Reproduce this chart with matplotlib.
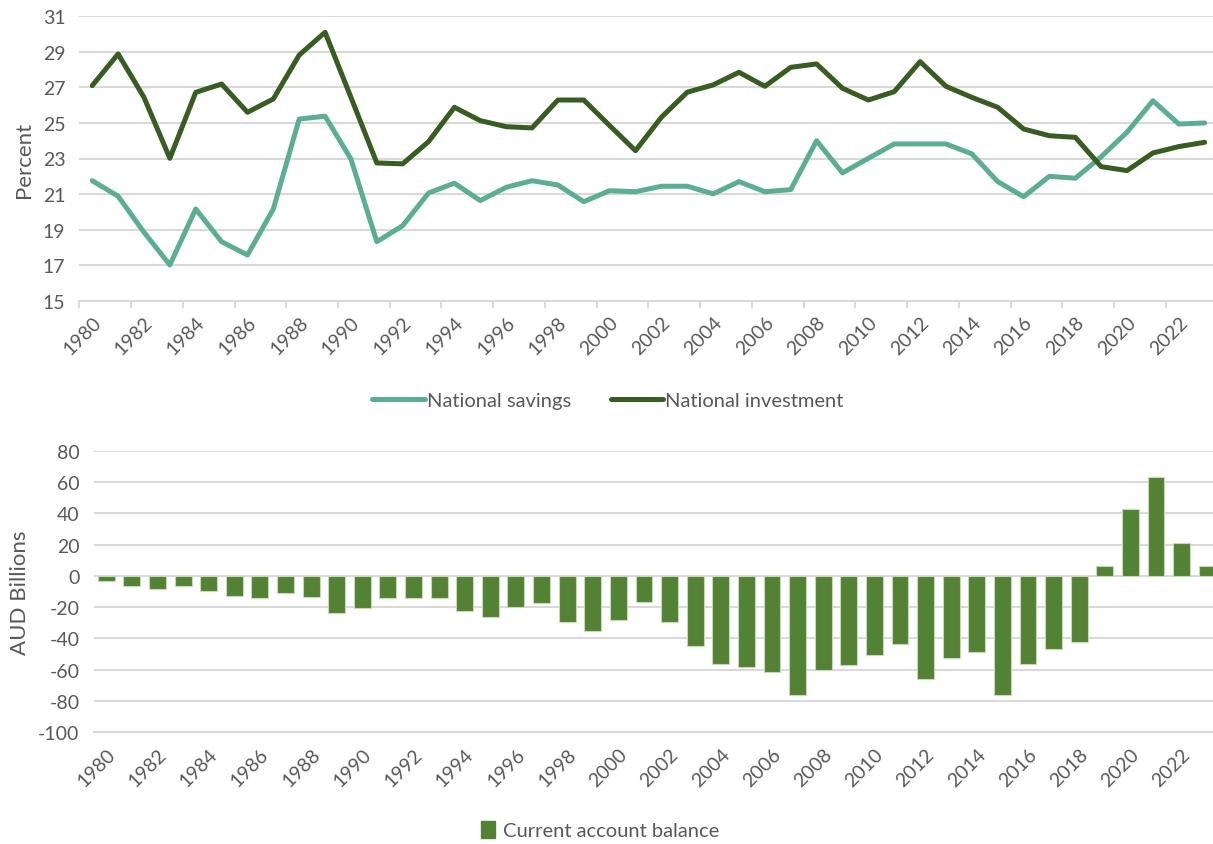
import matplotlib.pyplot as plt
import numpy as np
from matplotlib.lines import Line2D
from matplotlib.patches import Patch

plt.rcParams['font.family'] = ['Lato', 'DejaVu Sans']
plt.rcParams['axes.unicode_minus'] = False

years = list(range(1980, 2024))
savings = [21.75, 20.88, 18.85, 17.01, 20.16, 18.32, 17.57, 20.16, 25.22, 25.38,
           22.97, 18.32, 19.22, 21.06, 21.61, 20.63, 21.38, 21.75, 21.51, 20.57,
           21.19, 21.13, 21.44, 21.44, 21.01, 21.70, 21.13, 21.25, 24.00, 22.19,
           23.01, 23.82, 23.82, 23.82, 23.26, 21.70, 20.85, 22.00, 21.89, 23.10,
           24.48, 26.25, 24.94, 25.00]
investment = [27.10, 28.88, 26.44, 23.01, 26.72, 27.19, 25.60, 26.35, 28.82, 30.10,
              26.44, 22.75, 22.70, 23.95, 25.88, 25.13, 24.79, 24.72, 26.29, 26.29,
              24.85, 23.44, 25.32, 26.73, 27.14, 27.85, 27.06, 28.13, 28.32, 26.95,
              26.29, 26.76, 28.45, 27.06, 26.44, 25.88, 24.66, 24.28, 24.19, 22.54,
              22.32, 23.31, 23.67, 23.91]
current_account = [-3.6, -6.8, -8.3, -6.8, -9.8, -12.8, -14.3, -10.7, -13.4, -23.7,
                   -20.3, -14.3, -14.3, -14.3, -22.4, -26.0, -19.6, -17.1, -29.7, -35.0,
                   -28.4, -16.4, -29.7, -44.6, -56.5, -58.0, -61.7, -76.4, -60.2, -57.2,
                   -50.3, -43.7, -65.9, -52.7, -48.9, -76.4, -56.3, -46.7, -42.2, 6.4,
                   42.7, 63.4, 21.1, 6.4]

teal = '#5BAD94'
dark = '#385C22'
bar_green = '#548235'
grid = '#D9D9D9'
txt = '#595959'

W, H = 1213, 845
fig = plt.figure(figsize=(W / 100, H / 100), dpi=100)
ax1 = fig.add_axes([79.3 / W, 1 - 301.7 / H, (1217.6 - 79.3) / W, (301.7 - 17.3) / H])
ax2 = fig.add_axes([93.5 / W, 1 - 733.3 / H, (1220 - 93.5) / W, (733.3 - 451.7) / H])

x = np.arange(len(years))
labels = [str(y) for y in years[::2]]

# top: savings vs investment
ax1.plot(x, savings, color=teal, lw=3.6, solid_capstyle='round', zorder=3)
ax1.plot(x, investment, color=dark, lw=3.6, solid_capstyle='round', zorder=3)
ax1.set_xlim(-0.5, len(years) - 0.5)
ax1.set_ylim(15, 31)
ax1.set_yticks(range(15, 32, 2))
ax1.set_xticks(x[::2])
ax1.set_xticklabels(labels, rotation=45, ha='right', va='top', rotation_mode='anchor')
ax1.set_xticks(np.arange(-0.5, len(years), 2), minor=True)
ax1.tick_params(axis='x', which='major', length=0, pad=9)
ax1.tick_params(axis='x', which='minor', length=5, width=1.5, color=grid)
ax1.set_ylabel('Percent', fontsize=16, color=txt, labelpad=6)

# bottom: current account
ax2.bar(x, current_account, width=0.66, color=bar_green, edgecolor='#C5D9B8',
        linewidth=0.8, zorder=3)
ax2.set_xlim(-0.5, len(years) - 0.5)
ax2.set_ylim(-100, 80)
ax2.set_yticks(range(-100, 81, 20))
ax2.set_xticks(x[::2])
ax2.set_xticklabels(labels, rotation=45, ha='right', va='top', rotation_mode='anchor')
ax2.tick_params(axis='x', length=0, pad=9)
ax2.set_ylabel('AUD Billions', fontsize=16, color=txt, labelpad=6)

for ax in (ax1, ax2):
    for s in ['top', 'right', 'left']:
        ax.spines[s].set_visible(False)
    ax.spines['bottom'].set_color(grid)
    ax.spines['bottom'].set_linewidth(1.5)
    ax.yaxis.grid(True, color=grid, lw=1.5, zorder=0)
    ax.set_axisbelow(True)
    ax.tick_params(axis='y', length=0, pad=10)
    ax.tick_params(labelsize=14, labelcolor=txt)

h = [Line2D([], [], color=teal, lw=3.6, solid_capstyle='round'),
     Line2D([], [], color=dark, lw=3.6, solid_capstyle='round')]
fig.legend(h, ['National savings', 'National investment'], loc='center',
           bbox_to_anchor=(608 / W, 1 - 401 / H), ncol=2, frameon=False,
           fontsize=14.5, labelcolor=txt, handlelength=2.6, handletextpad=0.1,
           columnspacing=2.0)
fig.legend([Patch(color=bar_green)], ['Current account balance'], loc='center',
           bbox_to_anchor=(600 / W, 1 - 831 / H), frameon=False, fontsize=14.5,
           labelcolor=txt, handlelength=0.7, handleheight=0.9, handletextpad=0.4)

fig.savefig('out.png', dpi=100)
